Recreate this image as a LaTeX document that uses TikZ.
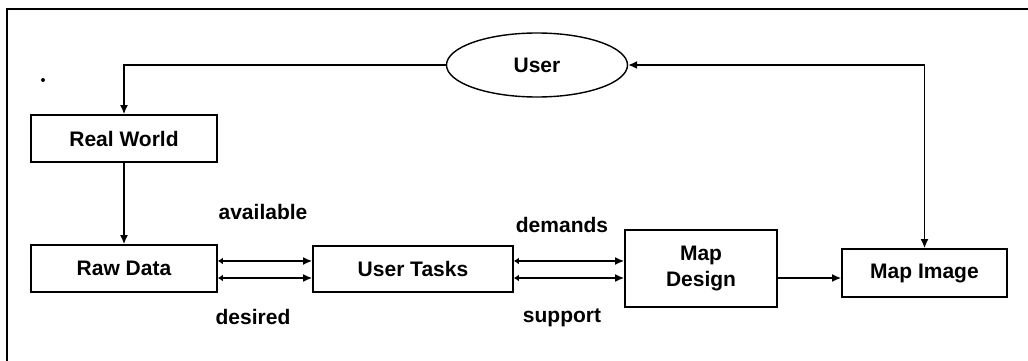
\documentclass[tikz,border=0pt]{standalone}
\usepackage{fontspec}
\setmainfont{Liberation Sans}
\usetikzlibrary{arrows.meta}
\usetikzlibrary{shapes.geometric}

\begin{document}
\begin{tikzpicture}[x=1pt,y=-1pt,
    line width=1.4pt,
    >={Latex[length=9pt,width=8pt]},
    box/.style={draw,rectangle,inner sep=0pt,align=center,line width=1.8pt,
      font=\fontsize{21}{26}\selectfont\bfseries},
    tag/.style={font=\fontsize{21}{26}\selectfont\bfseries},
    twoway/.style={{Latex[length=5pt,width=7pt]}->}]
  \useasboundingbox (0,0) rectangle (1028,361);
  \draw (7,361) -- (7,9) -- (1028,9);
  \fill (43,80) circle (2pt);

  \node[draw,ellipse,minimum width=181pt,minimum height=64pt,inner sep=0pt,
    font=\fontsize{21}{26}\selectfont\bfseries] (user) at (537,65) {User};
  \node[box,minimum width=186pt,minimum height=47pt] (world) at (124,138.5) {Real World};
  \node[box,minimum width=186pt,minimum height=47pt] (raw) at (124,268.5) {Raw Data};
  \node[box,minimum width=200pt,minimum height=46pt] (tasks) at (413,269) {User Tasks};
  \node[box,minimum width=152pt,minimum height=77pt] (design) at (701,268.5) {Map\\Design};
  \node[box,minimum width=165pt,minimum height=48pt] (image) at (924.5,273) {Map Image};

  \node[tag] (avail) at (263,212) {available};
  \node[tag] (desired) at (253,317) {desired};
  \node[tag] (demands) at (562,225) {demands};
  \node[tag] (support) at (562,318) {support};

  \draw[->] (user.west) -| (world.north);
  \draw[->] (world) -- (raw);
  \draw[<->] (user.east) -| (image.north);

  \foreach \y in {261,278} {
    \draw[twoway] (raw.east |- 0,\y) -- (tasks.west |- 0,\y);
    \draw[twoway] (tasks.east |- 0,\y) -- (design.west |- 0,\y);
  }
  \draw[->] (design.east |- 0,278) -- (image.west |- 0,278);
\end{tikzpicture}
\end{document}
